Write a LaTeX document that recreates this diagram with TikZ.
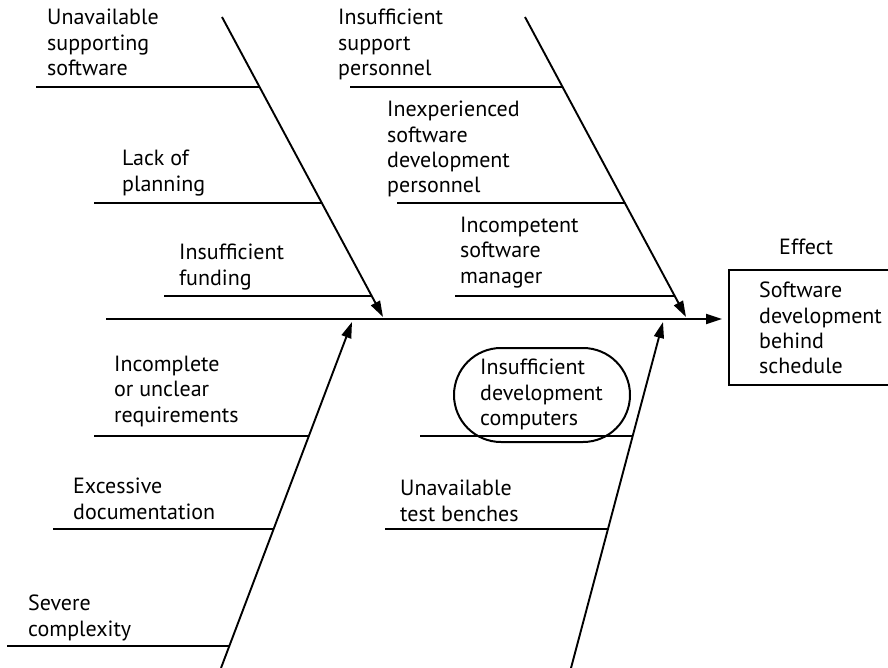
\documentclass[tikz,border=0pt]{standalone}
\usepackage{fontspec}
\setmainfont{PT Sans}
\usetikzlibrary{arrows.meta}
\begin{document}
\begin{tikzpicture}[x=1pt,y=-1pt,
  lbl/.style={anchor=north west,inner sep=0pt,align=left,font=\fontsize{22}{25.3}\selectfont},
  bone/.style={line width=1.9pt},
  rib/.style={line width=2.1pt},
  tip/.style={-{Triangle[length=16pt,width=10pt]}}]
\useasboundingbox (0,0) rectangle (888,668);
\fill[white] (0,0) rectangle (888,668);
% spine
\coordinate (s0) at (106,319);
\node[draw,line width=2pt,minimum width=170pt,minimum height=115pt,anchor=north west,inner sep=0pt] (eff) at (728,269) {};
\draw[bone,tip,shorten >=6pt] (s0) -- (s0 -| eff.west);
% diagonals
\coordinate (a0) at (222,17);   \coordinate (a1) at (383,317);
\coordinate (b0) at (525,17);   \coordinate (b1) at (686,317);
\coordinate (c0) at (221,668);  \coordinate (c1) at (352,322);
\coordinate (d0) at (571,668);  \coordinate (d1) at (663,322);
\draw[bone,tip] (a0) -- (a1);
\draw[bone,tip] (b0) -- (b1);
\draw[bone,tip] (c0) -- (c1);
\draw[bone,tip] (d0) -- (d1);
% ribs upper left
\coordinate (r1) at (36,87);  \coordinate (r1e) at (259,87);
\coordinate (r2) at (94,203); \coordinate (r2e) at (322,203);
\coordinate (r3) at (164,296); \coordinate (r3e) at (372,296);
\draw[rib] (r1) -- (r1e);
\draw[rib] (r2) -- (r2e);
\draw[rib] (r3) -- (r3e);
% ribs upper right
\coordinate (r4) at (350,87);  \coordinate (r4e) at (562,87);
\coordinate (r5) at (397,203); \coordinate (r5e) at (625,203);
\coordinate (r6) at (455,296); \coordinate (r6e) at (675,296);
\draw[rib] (r4) -- (r4e);
\draw[rib] (r5) -- (r5e);
\draw[rib] (r6) -- (r6e);
% ribs lower left
\coordinate (r7) at (94,436);  \coordinate (r7e) at (308,436);
\coordinate (r8) at (53,529);  \coordinate (r8e) at (274,529);
\coordinate (r9) at (7,646);   \coordinate (r9e) at (229,646);
\draw[rib] (r7) -- (r7e);
\draw[rib] (r8) -- (r8e);
\draw[rib] (r9) -- (r9e);
% ribs lower right
\coordinate (r10) at (420,436); \coordinate (r10e) at (633,436);
\coordinate (r11) at (385,529); \coordinate (r11e) at (607,529);
\draw[rib] (r10) -- (r10e);
\draw[rib] (r11) -- (r11e);
% labels
\node[lbl] (t1) at (47,9) {Unavailable\\supporting\\software};
\node[lbl] (t2) at (122,150) {Lack of\\planning};
\node[lbl] (t3) at (179,244) {Insufficient\\funding};
\node[lbl] (t4) at (338,9) {Insufficient\\support\\personnel};
\node[lbl] (t5) at (387,101) {Inexperienced\\software\\development\\personnel};
\node[lbl] (t6) at (460,217) {Incompetent\\software\\manager};
\node[lbl] (t7) at (114,356) {Incomplete\\or unclear\\requirements};
\node[lbl] (t8) at (73,478) {Excessive\\documentation};
\node[lbl] (t9) at (28,595) {Severe\\complexity};
\node[lbl] (t10) at (480,359) {Insufficient\\development\\computers};
\node[lbl] (t11) at (400,480) {Unavailable\\test benches};
\node[lbl] (t12) at (779,239) {Effect};
\node[lbl] (t13) at (759,282) {Software\\development\\behind\\schedule};
% highlight
\draw[line width=2pt,rounded corners=47pt] (454,348) rectangle (630,442);
\end{tikzpicture}
\end{document}
